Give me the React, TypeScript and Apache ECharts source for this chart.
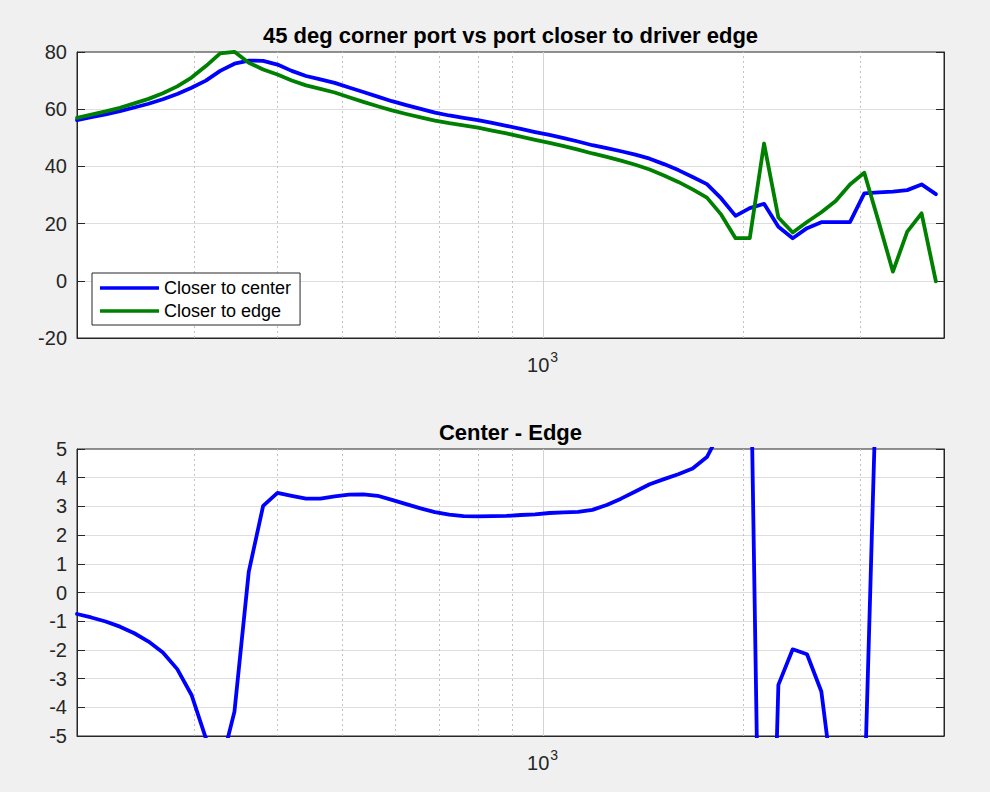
import React, { useEffect, useRef } from 'react';
import * as echarts from 'echarts';

// Frequency points (Hz)
const freqs = [200, 210.1, 220.8, 232.0, 243.8, 256.1, 269.1, 282.8, 297.1, 312.2, 328.0, 344.6, 362.1, 380.5, 399.8, 420.0, 441.3, 463.7, 487.2, 511.9, 537.9, 565.2, 593.8, 623.9, 655.6, 688.9, 723.8, 760.5, 799.0, 839.6, 882.1, 926.9, 973.9, 1023.3, 1075.2, 1129.7, 1187.0, 1247.2, 1310.4, 1376.9, 1446.7, 1520.0, 1597.1, 1678.1, 1763.2, 1852.6, 1946.6, 2044.5, 2148.0, 2257.0, 2371.5, 2491.8, 2618.2, 2751.0, 2890.5, 3037.0, 3191.0, 3352.8, 3523.0, 3701.6, 3889.4];

// Closer to center (dB)
const centerDb = [56.2, 57.2, 58.2, 59.3, 60.6, 61.9, 63.5, 65.3, 67.5, 70.0, 73.4, 75.9, 77.0, 76.9, 75.6, 73.4, 71.6, 70.4, 69.2, 67.6, 66.0, 64.4, 62.8, 61.4, 60.1, 58.8, 57.8, 57.0, 56.2, 55.2, 54.2, 53.1, 52.0, 51.0, 49.9, 48.7, 47.4, 46.4, 45.3, 44.1, 42.7, 40.8, 38.7, 36.3, 33.8, 28.8, 22.7, 25.4, 26.9, 18.9, 14.9, 18.4, 20.5, 20.5, 20.5, 30.6, 30.9, 31.2, 31.7, 33.7, 30.3];

// Closer to edge (dB)
const edgeDb = [56.95, 58.07, 59.21, 60.49, 62.02, 63.61, 65.59, 67.97, 71.07, 75.08, 79.54, 80.05, 76.27, 73.88, 72.13, 70.03, 68.33, 67.13, 65.85, 64.19, 62.58, 61.03, 59.57, 58.32, 57.17, 56.0, 55.09, 54.34, 53.55, 52.54, 51.53, 50.4, 49.28, 48.23, 47.11, 45.89, 44.52, 43.35, 42.03, 40.58, 38.93, 36.85, 34.58, 31.98, 29.08, 23.13, 14.9, 14.9, 48.0, 22.12, 16.88, 20.55, 23.95, 27.9, 33.7, 37.8, 20.7, 3.2, 17.2, 23.6, -0.2];

// Center - Edge (dB)
const diffDb = [-0.75, -0.87, -1.01, -1.19, -1.42, -1.71, -2.09, -2.67, -3.57, -5.08, -6.14, -4.15, 0.73, 3.02, 3.47, 3.37, 3.27, 3.27, 3.35, 3.41, 3.42, 3.37, 3.23, 3.08, 2.93, 2.80, 2.71, 2.66, 2.65, 2.66, 2.67, 2.70, 2.72, 2.77, 2.79, 2.81, 2.88, 3.05, 3.27, 3.52, 3.77, 3.95, 4.12, 4.32, 4.72, 5.67, 7.8, 10.5, -21.1, -3.22, -1.98, -2.15, -3.45, -7.4, -13.2, -7.2, 10.2, 28.0, 14.5, 10.1, 30.5];

const seriesNames = ['Closer to center', 'Closer to edge'];
const titles = ['45 deg corner port vs port closer to driver edge', 'Center - Edge'];

const xRange = [200, 4000];
const minorGridX = [300, 400, 500, 600, 700, 800, 900, 2000, 3000];
const majorGridX = [1000];
const topY = { min: -20, max: 80, interval: 20 };
const bottomY = { min: -5, max: 5, interval: 1 };

const FONT = '"Liberation Sans", Arial, Helvetica, sans-serif';
const AXIS = '#262626';
const BLUE = '#0000ff';
const GREEN = '#008000';

function gridLines(xAxisIndex: number, yAxisIndex: number) {
  return {
    type: 'line',
    xAxisIndex,
    yAxisIndex,
    data: [],
    silent: true,
    z: 1,
    markLine: {
      silent: true,
      z: 1,
      animation: false,
      symbol: ['none', 'none'],
      label: { show: false },
      emphasis: { disabled: true },
      data: [
        ...minorGridX.map((v) => ({ xAxis: v, lineStyle: { color: '#c2c2c2', type: [2, 3], width: 1 } })),
        ...majorGridX.map((v) => ({ xAxis: v, lineStyle: { color: '#d4d4d4', type: 'solid', width: 1 } })),
      ],
    },
  };
}

function yAxes(gridIndex: number, r: { min: number; max: number; interval: number }) {
  const common = {
    type: 'value',
    gridIndex,
    min: r.min,
    max: r.max,
    interval: r.interval,
    axisTick: { show: true, inside: true, length: 8, lineStyle: { color: AXIS, width: 1 } },
    axisLine: { show: true, onZero: false, lineStyle: { color: AXIS, width: 1 } },
  };
  return [
    {
      ...common,
      position: 'left',
      axisLabel: { show: true, margin: 10, fontSize: 20, fontFamily: FONT, color: AXIS },
      splitLine: { show: true, showMinLine: false, showMaxLine: false, lineStyle: { color: '#dedede', width: 1 } },
    },
    {
      ...common,
      position: 'right',
      axisLabel: { show: false },
      splitLine: { show: false },
    },
  ];
}

function xAxis(gridIndex: number) {
  return {
    type: 'log',
    logBase: 10,
    gridIndex,
    position: 'bottom',
    min: xRange[0],
    max: xRange[1],
    axisLine: { show: true, onZero: false, lineStyle: { color: AXIS, width: 1 } },
    axisTick: { show: false },
    axisLabel: { show: false },
    splitLine: { show: false },
    minorTick: { show: false },
  };
}

function lineSeries(name: string, values: number[], color: string, xAxisIndex: number, yAxisIndex: number) {
  return {
    type: 'line',
    name,
    xAxisIndex,
    yAxisIndex,
    data: freqs.map((f, i) => [f, values[i]]),
    showSymbol: false,
    symbol: 'none',
    clip: true,
    z: 3,
    color,
    lineStyle: { color, width: 3.8, join: 'round', cap: 'round' },
    emphasis: { disabled: true },
  };
}

export default function App() {
  const ref = useRef<HTMLDivElement>(null);

  useEffect(() => {
    if (!ref.current) return;
    const chart = echarts.init(ref.current, null, { renderer: 'svg' });
    const option: any = {
      animation: false,
      backgroundColor: '#f0f0f0',
      textStyle: { fontFamily: FONT },
      grid: [
        { left: 77, top: 52, width: 867, height: 286, show: true, backgroundColor: '#ffffff', borderColor: AXIS, borderWidth: 1 },
        { left: 77, top: 449, width: 867, height: 287, show: true, backgroundColor: '#ffffff', borderColor: AXIS, borderWidth: 1 },
      ],
      xAxis: [xAxis(0), xAxis(1)],
      yAxis: [...yAxes(0, topY), ...yAxes(1, bottomY)],
      legend: {
        data: seriesNames,
        orient: 'vertical',
        left: 92,
        top: 273,
        icon: 'rect',
        itemWidth: 59,
        itemHeight: 3.5,
        itemGap: 5,
        padding: [6, 9, 5, 8],
        backgroundColor: '#ffffff',
        borderColor: AXIS,
        borderWidth: 1,
        borderRadius: 0,
        selectedMode: false,
        textStyle: { fontSize: 18, fontFamily: FONT, color: '#000000', lineHeight: 18 },
      },
      series: [
        gridLines(0, 0),
        lineSeries(seriesNames[0], centerDb, BLUE, 0, 0),
        lineSeries(seriesNames[1], edgeDb, GREEN, 0, 0),
        gridLines(1, 2),
        lineSeries(titles[1], diffDb, BLUE, 1, 2),
      ],
    };
    chart.setOption(option);

    const graphics: any[] = [];
    const panels = [
      { x: 0, y: 0, yr: topY, title: titles[0] },
      { x: 1, y: 2, yr: bottomY, title: titles[1] },
    ];
    panels.forEach((p) => {
      const xl = chart.convertToPixel({ xAxisIndex: p.x } as any, xRange[0]) as number;
      const xr = chart.convertToPixel({ xAxisIndex: p.x } as any, xRange[1]) as number;
      const yt = chart.convertToPixel({ yAxisIndex: p.y } as any, p.yr.max) as number;
      const yb = chart.convertToPixel({ yAxisIndex: p.y } as any, p.yr.min) as number;
      const xk = chart.convertToPixel({ xAxisIndex: p.x } as any, majorGridX[0]) as number;
      graphics.push({
        type: 'text',
        silent: true,
        style: {
          text: p.title,
          x: (xl + xr) / 2,
          y: yt - 16.5,
          align: 'center',
          verticalAlign: 'middle',
          fontSize: 22,
          fontWeight: 'bold',
          fontFamily: FONT,
          fill: '#000000',
        },
      });
      graphics.push({
        type: 'text',
        silent: true,
        style: {
          text: '10',
          x: xk + 6.5,
          y: yb + 27,
          align: 'right',
          verticalAlign: 'middle',
          fontSize: 20,
          fontFamily: FONT,
          fill: AXIS,
        },
      });
      graphics.push({
        type: 'text',
        silent: true,
        style: {
          text: '3',
          x: xk + 7.5,
          y: yb + 18.5,
          align: 'left',
          verticalAlign: 'middle',
          fontSize: 14,
          fontFamily: FONT,
          fill: AXIS,
        },
      });
    });
    chart.setOption({ graphic: graphics });

    return () => {
      chart.dispose();
    };
  }, []);

  return (
    <div
      ref={ref}
      style={{ position: 'fixed', left: 0, top: 0, width: 990, height: 792, background: '#f0f0f0' }}
    />
  );
}
